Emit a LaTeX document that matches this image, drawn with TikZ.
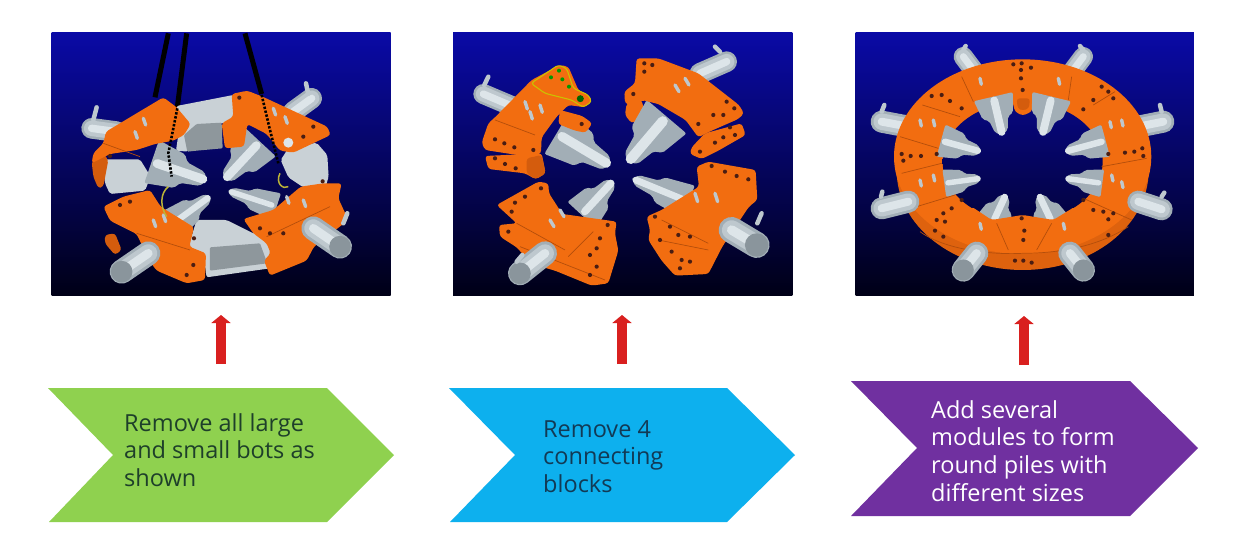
\documentclass[tikz,border=0pt]{standalone}
\usepackage{fontspec}
\setmainfont{Open Sans}
\usetikzlibrary{calc,arrows.meta}
\definecolor{orng}{HTML}{F26D10}
\definecolor{orngS}{HTML}{DE620E}
\definecolor{orngD}{HTML}{D45C0D}
\definecolor{holeC}{HTML}{4A1D12}
\definecolor{cylD}{HTML}{A2AEB6}
\definecolor{cylM}{HTML}{BEC8CE}
\definecolor{cylL}{HTML}{DDE5E9}
\definecolor{cylE}{HTML}{8A959C}
\definecolor{grayPl}{HTML}{C9D1D6}
\definecolor{grayD}{HTML}{8E979C}
\definecolor{bgT}{HTML}{0A0AA6}
\definecolor{bgM}{HTML}{00005E}
\definecolor{bgB}{HTML}{000016}
\definecolor{chGreen}{HTML}{8FD14F}
\definecolor{chBlue}{HTML}{0DB0EE}
\definecolor{chPurple}{HTML}{7030A0}
\definecolor{arrRed}{HTML}{D9201F}
\definecolor{ink1}{HTML}{1E3F2A}
\definecolor{ink2}{HTML}{123A55}
\tikzset{
  plate/.style={fill=orng,rounded corners=3pt},
  plateD/.style={fill=orngD,rounded corners=3pt},
  link/.style={fill=grayPl,rounded corners=2pt},
  linkD/.style={fill=grayD,rounded corners=1pt},
  seam/.style={draw=orngD!85!black,line width=0.7pt},
  rope/.style={draw=black,line width=5pt},
  chain/.style={draw=black,line width=2.6pt,dash pattern=on 2.4pt off 1.6pt},
  hook/.style={draw=yellow!70!black,line width=1.5pt},
  pin/.style={draw=cylM,line width=4.5pt,line cap=round},
  bolt/.style={draw=cylM,line width=3.4pt,line cap=round},
  chevron/.style={line width=0pt},
  steptext/.style={anchor=north west,align=left,inner sep=0pt,font=\fontsize{23.5}{27.9}\selectfont},
  uparrow/.style={draw=arrRed,line width=10.5pt,-{Triangle[width=19pt,length=8pt]}},
  zoomed/.style={x=0.3333pt,y=-0.3333pt}
}
\newcommand\cyl[5]{%
  \draw[cylD,line width=#5*0.3333pt,line cap=round] (#1,#2)--(#3,#4);
  \draw[cylM,line width=#5*0.25pt,line cap=round] (#1,#2)--(#3,#4);
  \draw[cylL,line width=#5*0.12pt,line cap=round] (#1,#2)--(#3,#4);}
\newcommand\cylend[5]{%
  \cyl{#1}{#2}{#3}{#4}{#5}
  \fill[cylE] (#3,#4) circle (#5*0.15pt);}
\newcommand\nose[5]{%
  \fill[cylD,rounded corners=2pt]
    ($(#1,#2)!#5*0.3333pt!90:(#3,#4)$) --
    ($(#1,#2)!0.5!(#3,#4)!#5*0.26pt!90:(#3,#4)$) --
    ($(#1,#2)!0.58!(#3,#4)!#5*0.16pt!90:(#3,#4)$) --
    ($(#1,#2)!0.9!(#3,#4)!#5*0.11pt!90:(#3,#4)$) --
    (#3,#4) --
    ($(#1,#2)!0.9!(#3,#4)!#5*0.11pt!-90:(#3,#4)$) --
    ($(#1,#2)!0.58!(#3,#4)!#5*0.16pt!-90:(#3,#4)$) --
    ($(#1,#2)!0.5!(#3,#4)!#5*0.26pt!-90:(#3,#4)$) --
    ($(#1,#2)!#5*0.3333pt!-90:(#3,#4)$) -- cycle;
  \draw[cylL,line width=#5*0.13pt,line cap=round]
    ($(#1,#2)!0.1!(#3,#4)$) -- ($(#1,#2)!0.92!(#3,#4)$);}
\newcommand\holes[1]{\foreach \p in {#1} \fill[holeC] \p circle (2.1pt);}
\newcommand\panelbg[4]{\shade[top color=bgT,middle color=bgM,bottom color=bgB] (#1,#2) rectangle (#3,#4);}
\begin{document}
\begin{tikzpicture}[x=1pt,y=-1pt]
\useasboundingbox (0,0) rectangle (1256,552);
\fill[white] (0,0) rectangle (1256,552);

% ---------- panel 1 ----------
\begin{scope}[shift={(40,20)},zoomed]
\panelbg{35}{38}{1052}{828}
\draw[rope] (385,40)--(345,232);
\draw[rope] (440,40)--(412,262);
\draw[rope] (615,40)--(665,222);
\cyl{230}{335}{155}{325}{62}
\draw[pin] (160,300)--(170,262);
\cyl{760}{275}{815}{235}{62}
\draw[pin] (805,222)--(798,190);
% grey links
\fill[link] (410,258)--(580,225)--(625,262)--(610,300)--(545,310)--(470,320)--(445,395)--(408,392)--(420,310)--cycle;
\fill[linkD] (432,345)--(470,312)--(545,308)--(548,385)--(470,392)--(442,395)--cycle;
\fill[link] (745,385)--(830,368)--(862,405)--(866,470)--(858,497)--(790,502)--(745,472)--(722,420)--cycle;
\fill[link] (188,418)--(300,418)--(332,470)--(315,512)--(210,522)--(195,490)--cycle;
\fill[link] (445,680)--(470,600)--(560,600)--(640,640)--(672,650)--(705,700)--(712,742)--(500,772)--(490,702)--cycle;
\fill[linkD] (510,682)--(660,670)--(682,730)--(510,752)--cycle;
% noses
\nose{335}{425}{502}{482}{68}
\nose{660}{365}{553}{480}{65}
\nose{400}{610}{512}{528}{48}
\nose{710}{560}{563}{512}{42}
% plates
\fill[plateD] (155,425)--(190,400)--(205,420)--(190,500)--(175,505)--(160,470)--cycle;
\fill[plateD] (195,645)--(225,640)--(245,690)--(225,705)--(195,670)--cycle;
\fill[plate] (198,335)--(370,232)--(410,262)--(452,312)--(432,345)--(400,362)--(345,372)--(290,390)--(210,402)--(155,430)--(160,400)--(190,370)--cycle;
\fill[plate] (555,385)--(545,310)--(580,290)--(575,222)--(622,212)--(672,232)--(862,320)--(872,345)--(760,398)--(720,392)--(680,342)--(622,312)--(612,380)--cycle;
\fill[plate] (190,560)--(250,530)--(330,510)--(362,560)--(462,622)--(448,680)--(498,700)--(495,780)--(440,790)--(350,752)--(328,722)--(290,642)--(210,602)--cycle;
\fill[plate] (610,597)--(700,570)--(782,500)--(850,490)--(905,490)--(895,535)--(925,600)--(822,680)--(800,722)--(690,767)--(672,722)--(692,700)--(680,670)--(640,640)--cycle;
\draw[seam] (190,370)--(300,410);
\draw[seam] (290,640)--(450,690);
\draw[seam] (680,650)--(870,560);
\fill[cylL] (745,368) circle (5pt);
\holes{(210,408),(598,233),(848,484),(462,655),(240,555),(270,545),(820,320),(790,350),(690,640),(660,625),(730,640),(460,735),(440,765)}
% bolts
\foreach \x/\y in {310/295,285/335,700/265,735/290,790/540,740/530,340/600,370/585}
  \draw[bolt] (\x,\y)--++(7,20);
% lower cylinders
\cylend{325}{700}{245}{755}{72}
\cylend{820}{625}{900}{680}{72}
\draw[pin] (910,610)--(922,580);
% chains
\draw[chain] (412,265)--(385,400)--(395,470);
\draw[chain] (665,225)--(690,330)--(715,430);
\draw[hook] (385,500)..controls (360,520) and (360,560)..(380,590);
\draw[hook] (720,460)..controls (705,490) and (730,510)..(745,500);
\end{scope}

% ---------- panel 2 ----------
\begin{scope}[shift={(445,20)},zoomed]
\panelbg{24}{38}{1042}{828}
% upper left
\cyl{200}{258}{115}{222}{60}
\draw[pin] (118,195)--(130,170);
\nose{335}{340}{497}{437}{72}
\fill[plate] (120,408)--(290,400)--(302,460)--(272,478)--(240,460)--(130,447)--cycle;
\fill[plateD] (245,415)--(290,405)--(302,460)--(272,478)--(245,460)--cycle;
\fill[plate] (345,270)--(412,288)--(442,310)--(422,338)--(390,332)--(340,312)--cycle;
\fill[plate] (150,292)--(260,180)--(345,135)--(370,140)--(400,210)--(440,235)--(420,262)--(370,255)--(335,290)--(290,352)--(288,400)--(262,412)--(120,390)--(110,368)--(130,310)--cycle;
\fill[plate,draw=yellow!55!olive,line width=1.1pt] (258,190)--(340,135)--(365,145)--(385,205)--(430,225)--(440,245)--(415,262)--(380,240)--(300,220)--cycle;
\draw[seam] (150,300)--(270,345);
\foreach \p in {(342,152),(318,172),(352,178),(372,200)} \fill[green!60!black] \p circle (2pt);
\fill[black!60!green] (406,236) circle (3.5pt);
\holes{(150,358),(178,370),(208,382),(265,390),(150,415),(180,432),(212,445),(410,312)}
\foreach \x/\y in {240/245,285/255,255/275}
  \draw[bolt] (\x,\y)--++(7,22);
% upper right
\cyl{765}{160}{845}{125}{62}
\draw[pin] (825,95)--(810,80);
\fill[plate] (740,382)--(780,340)--(890,310)--(902,345)--(820,392)--(770,417)--(735,402)--cycle;
\fill[plate] (545,250)--(590,240)--(602,290)--(560,310)--(540,285)--cycle;
\nose{665}{290}{548}{428}{78}
\fill[plate] (575,115)--(640,115)--(760,160)--(882,255)--(897,280)--(880,297)--(800,332)--(760,352)--(722,300)--(640,252)--(590,240)--(575,262)--(540,250)--(538,215)--(570,190)--cycle;
\holes{(598,130),(622,135),(598,155),(565,222),(845,245),(868,265),(835,285),(805,285),(760,312),(855,322),(835,352),(810,368),(765,395),(870,345)}
\foreach \x/\y in {690/195,720/175}
  \draw[bolt] (\x,\y)--++(12,20);
% lower left
\nose{410}{585}{505}{482}{58}
\fill[plate] (155,555)--(280,485)--(310,490)--(312,520)--(352,582)--(480,600)--(515,605)--(510,640)--(520,692)--(490,790)--(440,797)--(330,752)--(260,732)--(215,682)--(165,650)--(162,615)--(215,610)--cycle;
\draw[seam] (215,610)--(360,690);
\draw[seam] (370,710)--(445,635);
\draw[seam] (225,680)--(480,780);
\holes{(288,505),(240,530),(210,548),(200,575),(488,615),(465,655),(455,685),(435,705),(455,740),(435,765),(190,635)}
\foreach \x/\y in {315/600,345/570}
  \draw[bolt] (\x,\y)--++(12,20);
\cylend{300}{700}{225}{760}{72}
\draw[pin] (215,725)--(232,705);
% lower right
\nose{730}{545}{560}{475}{52}
\fill[plate] (755,440)--(790,425)--(932,450)--(937,540)--(912,560)--(832,680)--(790,762)--(690,767)--(650,722)--(610,660)--(615,630)--(605,590)--(650,570)--(762,500)--cycle;
\draw[seam] (650,600)--(790,670);
\draw[seam] (640,660)--(790,690);
\holes{(800,438),(840,455),(875,468),(910,478),(630,590),(675,620),(700,645),(735,650),(645,660),(680,695),(710,720),(735,725),(705,745)}
\foreach \x/\y in {750/520,810/520}
  \draw[bolt] (\x,\y)--++(8,25);
\cylend{860}{630}{935}{675}{78}
\draw[pin] (937,610)--(950,580);
\end{scope}

% ---------- panel 3 ----------
\begin{scope}[shift={(845,20)},zoomed]
\panelbg{32}{38}{1047}{828}
\cyl{385}{150}{355}{110}{58}
\cyl{685}{150}{715}{110}{58}
\cyl{190}{320}{110}{305}{66}
\cyl{880}{320}{955}{305}{66}
\draw[pin] (110,275)--(118,255);
\draw[pin] (950,275)--(945,255);
\draw[pin] (355,90)--(362,78);
\draw[pin] (715,90)--(705,78);
\fill[fill=orngS] (533,452) ellipse [x radius=378,y radius=298];
\fill[plate] (533,410) ellipse [x radius=386,y radius=292];
\begin{scope}
  \clip (533,425) ellipse [x radius=240,y radius=180];
  \panelbg{32}{38}{1047}{828}
\end{scope}
\fill[plate] (500,235)--(568,235)--(560,275)--(533,287)--(510,275)--cycle;
\fill[plateD] (515,235)--(555,235)--(552,265)--(533,272)--(518,265)--cycle;
\nose{445}{230}{472}{345}{60}
\nose{620}{230}{592}{345}{60}
\nose{288}{362}{408}{395}{50}
\nose{782}{362}{660}{395}{50}
\nose{298}{490}{408}{475}{42}
\nose{772}{490}{660}{475}{42}
\nose{445}{605}{482}{525}{52}
\nose{620}{605}{582}{525}{52}
\fill[plate] (380,560)--(440,600)--(533,585)--(625,600)--(690,560)--(740,640)--(533,690)--(340,640)--cycle;
\foreach \a/\b/\c/\d in {232/255/345/290,165/350/280/385,170/460/290/430,215/560/330/525,455/610/490/690,620/610/575/690,715/535/860/600,770/440/905/415,745/255/810/215,350/170/385/245,680/170/670/240}
  \draw[seam] (\a,\b)--(\c,\d);
\draw[seam] (225,635)..controls (300,690) and (440,705)..(533,700)..controls (640,700) and (760,680)..(850,620);
\holes{(505,133),(530,130),(558,143),(528,150),(528,175),(533,210),(260,228),(290,225),(315,243),(350,265),(170,402),(197,408),(228,408),(275,402),(175,422),(350,540),(320,565),(295,580),(275,600),(300,605),(530,595),(538,632),(535,660),(715,268),(745,240),(770,200),(790,215),(805,235),(790,402),(840,398),(868,395),(892,385),(895,408),(715,540),(745,570),(775,575),(805,580),(790,598),(270,632),(295,650),(510,722),(535,722),(560,728),(790,645)}
\foreach \x/\y in {405/175,640/175,225/300,265/300,795/305,830/300,225/480,265/465,800/465,830/485,405/610,655/610}
  \draw[bolt] (\x,\y)--++(4,18);
\cyl{190}{545}{110}{565}{66}
\cyl{880}{545}{950}{568}{66}
\draw[pin] (108,530)--(112,515);
\draw[pin] (950,530)--(958,518);
\cylend{395}{700}{355}{750}{70}
\cylend{675}{700}{715}{750}{70}
\end{scope}

% ---------- chevrons ----------
\fill[chGreen,chevron] (48,388)--(327,388)--(394,455)--(327,522)--(49,522)--(113,455)--cycle;
\fill[chBlue,chevron] (449,388)--(727,388)--(795,455)--(727,522)--(450,522)--(515,455)--cycle;
\fill[chPurple,chevron] (851,381)--(1130,381)--(1198,448)--(1130,516)--(851,516)--(917,448)--cycle;
\node[steptext,text=ink1] (t1) at (124,413) {Remove all large\\and small bots as\\shown};
\node[steptext,text=ink2] (t2) at (543,420) {Remove 4\\connecting\\blocks};
\node[steptext,text=white] (t3) at (931,400) {Add several\\modules to form\\round piles with\\different sizes};

% ---------- arrows ----------
\coordinate (a1) at (221,364); \coordinate (b1) at (221,315);
\coordinate (a2) at (622,364); \coordinate (b2) at (622,315);
\coordinate (a3) at (1024,365); \coordinate (b3) at (1024,316);
\draw[uparrow] (a1)--(b1);
\draw[uparrow] (a2)--(b2);
\draw[uparrow] (a3)--(b3);
\end{tikzpicture}
\end{document}
